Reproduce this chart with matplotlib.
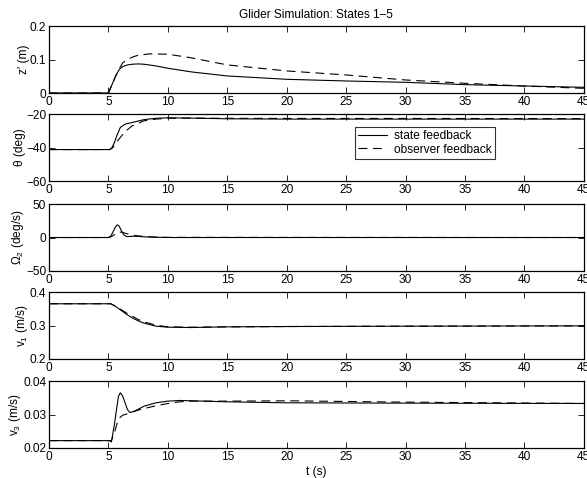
import matplotlib
matplotlib.use("Agg")
from matplotlib import pyplot as plt

plt.rcParams['font.family'] = ['Liberation Sans', 'DejaVu Sans']
plt.rcParams['mathtext.fontset'] = 'custom'
plt.rcParams['mathtext.rm'] = 'Liberation Sans'
plt.rcParams['mathtext.it'] = 'Liberation Sans'

# values
t_z = [0, 5, 5.3, 5.6, 5.9, 6.2, 6.6, 7.0, 7.5, 8, 9, 10, 12, 15, 20, 25, 30, 35, 40, 45]
z_state = [0, 0, 0.025, 0.05, 0.07, 0.079, 0.084, 0.086, 0.087, 0.086, 0.081, 0.074, 0.063, 0.051, 0.041, 0.036, 0.032, 0.025, 0.021, 0.017]
t_zo = [0, 5, 5.3, 5.6, 5.9, 6.2, 6.6, 7.0, 7.5, 8.5, 10, 12, 15, 20, 25, 30, 35, 40, 45]
z_obs = [0, 0, 0.025, 0.05, 0.072, 0.09, 0.1, 0.107, 0.113, 0.117, 0.116, 0.105, 0.084, 0.066, 0.054, 0.039, 0.029, 0.021, 0.014]

t_th = [0, 5.1, 5.3, 5.5, 5.7, 6.0, 6.4, 7, 8, 9, 10, 12, 15, 20, 30, 45]
th_state = [-41.2, -41.2, -40, -37, -33, -28, -26, -25, -23.3, -22.5, -22.2, -22.4, -22.8, -23, -23, -23]
th_obs = [-41.2, -41.2, -40.5, -39, -36.5, -34, -30.5, -27, -24, -23, -22.5, -22.4, -22.5, -22.6, -22.6, -22.7]

t_om = [0, 5.0, 5.2, 5.4, 5.6, 5.75, 5.9, 6.1, 6.3, 6.5, 6.8, 7.2, 8, 9, 10, 45]
om_state = [0, 0, 2, 9, 16, 19, 17, 10, 4, 1.5, 1.5, 2, 1, 0.4, 0, 0]
om_obs = [0, 0, 1, 3, 5.5, 7, 8, 8, 7, 6, 4.5, 3, 1.5, 0.6, 0.2, 0]

t_v1 = [0, 5.2, 5.6, 6, 6.5, 7, 7.5, 8, 9, 10, 12, 15, 20, 30, 45]
v1_state = [0.365, 0.365, 0.357, 0.347, 0.334, 0.323, 0.314, 0.307, 0.298, 0.295, 0.294, 0.296, 0.297, 0.298, 0.299]
v1_obs = [0.365, 0.365, 0.358, 0.349, 0.338, 0.328, 0.318, 0.311, 0.301, 0.296, 0.295, 0.296, 0.297, 0.298, 0.299]

t_v3 = [0, 5.1, 5.25, 5.5, 5.7, 5.85, 6.0, 6.2, 6.4, 6.6, 6.8, 7.2, 8, 9, 10, 11, 12, 15, 20, 30, 45]
v3_state = [0.0222, 0.0222, 0.0218, 0.027, 0.032, 0.0355, 0.0365, 0.0355, 0.0335, 0.0315, 0.0306, 0.031, 0.0325, 0.0335, 0.034, 0.0342, 0.0341, 0.0338, 0.0335, 0.0334, 0.0333]
v3_obs = [0.0222, 0.0222, 0.0222, 0.0245, 0.027, 0.0285, 0.0292, 0.0298, 0.03, 0.0302, 0.0304, 0.031, 0.0318, 0.0326, 0.0333, 0.0338, 0.034, 0.034, 0.0341, 0.0337, 0.0333]

ylabels = ["z′ (m)", "θ (deg)", "$\\Omega_2$ (deg/s)", "$v_1$ (m/s)", "$v_3$ (m/s)"]
ylims = [(0, 0.2), (-60, -20), (-50, 50), (0.2, 0.4), (0.02, 0.04)]
yticks = [[0, 0.1, 0.2], [-60, -40, -20], [-50, 0, 50], [0.2, 0.3, 0.4], [0.02, 0.03, 0.04]]
ytick_labels = [["0", "0.1", "0.2"], ["−60", "−40", "−20"], ["−50", "0", "50"],
                ["0.2", "0.3", "0.4"], ["0.02", "0.03", "0.04"]]
xticks = [0, 5, 10, 15, 20, 25, 30, 35, 40, 45]

series = [(t_z, z_state, t_zo, z_obs),
          (t_th, th_state, t_th, th_obs),
          (t_om, om_state, t_om, om_obs),
          (t_v1, v1_state, t_v1, v1_obs),
          (t_v3, v3_state, t_v3, v3_obs)]

fig = plt.figure(figsize=(5.87, 4.78), dpi=100)

bottoms = [0.8054, 0.6213, 0.4331, 0.2490, 0.0628]
height = 0.140
left, width = 0.0835, 0.911
fs = 8.6

for i in range(5):
    ax = fig.add_axes([left, bottoms[i], width, height])
    ts, ys, to, yo = series[i]
    ax.plot(ts, ys, color='black', lw=0.8, label='state feedback')
    ax.plot(to, yo, color='black', lw=0.8, ls=(0, (8, 5)), label='observer feedback')
    ax.set_xlim(0, 45)
    ax.set_ylim(*ylims[i])
    ax.set_xticks(xticks)
    ax.set_xticklabels([str(x) for x in xticks])
    ax.set_yticks(yticks[i])
    ax.set_yticklabels(ytick_labels[i])
    ax.tick_params(direction='in', top=True, right=True, length=4, width=0.6,
                   labelsize=fs, pad=2)
    for s in ax.spines.values():
        s.set_linewidth(0.9)
    ax.set_ylabel(ylabels[i], fontsize=fs, labelpad=0)
    if i == 0:
        ax.set_title("Glider Simulation: States 1–5", fontsize=fs, pad=6)
    if i == 1:
        leg = ax.legend(loc='upper left', bbox_to_anchor=(0.573, 0.80), fontsize=fs,
                        frameon=True, fancybox=False, edgecolor='black',
                        handlelength=2.4, borderpad=0.25, labelspacing=0.1,
                        handletextpad=0.6, borderaxespad=0)
        leg.get_frame().set_linewidth(0.8)
    if i == 4:
        ax.set_xlabel("t (s)", fontsize=fs, labelpad=2)

fig.savefig("out.png", dpi=100)
